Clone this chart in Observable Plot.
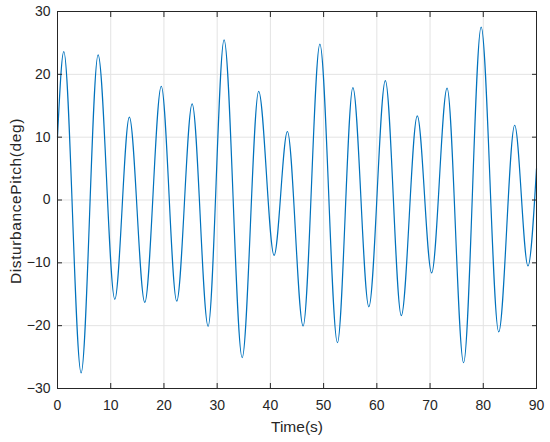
<!DOCTYPE html>
<html>
<head>
<meta charset="utf-8">
<script src="https://cdn.jsdelivr.net/npm/d3@7"></script>
<script src="https://cdn.jsdelivr.net/npm/@observablehq/plot@0.6"></script>
<style>
  html, body { margin: 0; padding: 0; background: #fff; }
  .ylab text { letter-spacing: 0.6px; }
</style>
</head>
<body>
<div id="chart"></div>
<script>
// Time of each extremum (s)
const timeS = [0, 1.18, 4.44, 7.63, 10.77, 13.5, 16.4, 19.5, 22.4, 25.3, 28.3, 31.3, 34.7, 37.8, 40.7, 43.2, 46.15, 49.3, 52.6, 55.5, 58.5, 61.6, 64.6, 67.6, 70.3, 73.2, 76.3, 79.6, 82.9, 85.9, 88.4, 90];
// Disturbance pitch at those times (deg)
const pitchDeg = [10, 23.6, -27.5, 23.1, -15.8, 13.2, -16.3, 18.1, -16.1, 15.3, -20.1, 25.5, -25.1, 17.3, -8.8, 10.9, -20.05, 24.8, -22.7, 17.9, -17.0, 19.0, -18.4, 13.4, -11.6, 17.8, -25.9, 27.5, -21.0, 11.9, -10.5, 5];
const xTicks = [0, 10, 20, 30, 40, 50, 60, 70, 80, 90];
const yTicks = [-30, -20, -10, 0, 10, 20, 30];
const xLabel = "Time(s)";
const yLabel = "DisturbancePitch(deg)";

const data = timeS.map((t, i) => ({t, v: pitchDeg[i]}));
const axisColor = "#262626";
const gridColor = "#e3e3e3";

const chart = Plot.plot({
  width: 550,
  height: 442,
  marginLeft: 57,
  marginRight: 14,
  marginTop: 11,
  marginBottom: 54,
  style: {fontFamily: "'Liberation Sans', Arial, sans-serif", fontSize: "14px", color: axisColor, background: "#fff"},
  x: {domain: [0, 90]},
  y: {domain: [-30, 30]},
  marks: [
    Plot.gridX(xTicks, {stroke: gridColor, strokeOpacity: 1}),
    Plot.gridY(yTicks, {stroke: gridColor, strokeOpacity: 1}),
    Plot.line(data, {x: "t", y: "v", stroke: "#0072BD", strokeWidth: 1.2, curve: "monotone-x"}),
    Plot.frame({stroke: axisColor, strokeWidth: 1}),
    Plot.axisX(xTicks, {anchor: "bottom", tickSize: -5, tickPadding: 17, label: null, stroke: axisColor}),
    Plot.axisX(xTicks, {anchor: "top", tickSize: -5, tickFormat: () => "", label: null, stroke: axisColor}),
    Plot.axisY(yTicks, {anchor: "left", tickSize: -5, tickPadding: 12, label: null, stroke: axisColor}),
    Plot.axisY(yTicks, {anchor: "right", tickSize: -5, tickFormat: () => "", label: null, stroke: axisColor}),
    Plot.text([xLabel], {text: d => d, frameAnchor: "bottom", dy: 39, lineAnchor: "middle", textAnchor: "middle", fontSize: 15.5, fill: axisColor}),
    Plot.text([yLabel], {text: d => d, frameAnchor: "left", dx: -41, dy: 1, rotate: -90, textAnchor: "middle", lineAnchor: "middle", fontSize: 15.5, fill: axisColor, className: "ylab"})
  ]
});
document.getElementById("chart").appendChild(chart);
</script>
</body>
</html>
